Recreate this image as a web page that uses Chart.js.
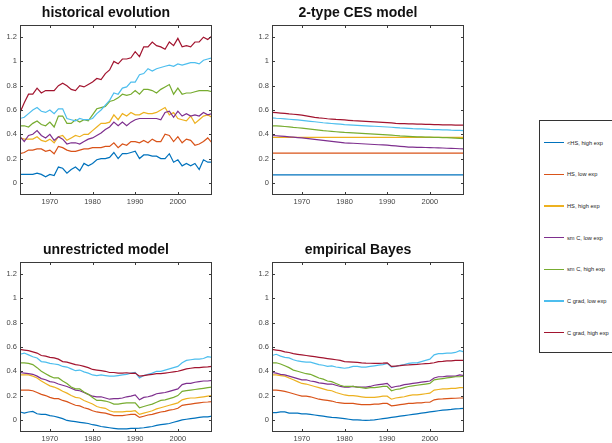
<!DOCTYPE html>
<html>
<head>
<meta charset="utf-8">
<script src="https://cdn.jsdelivr.net/npm/chart.js@4/dist/chart.umd.min.js"></script>
<style>
  html, body { margin: 0; padding: 0; background: #ffffff; }
  body { width: 612px; height: 443px; position: relative; overflow: hidden; font-family: "Liberation Sans", Arial, sans-serif; }
  canvas { position: absolute; }
  #legend { position: absolute; left: 539px; top: 120px; width: 90px; height: 233px; border: 1px solid #333; box-sizing: border-box; background: #fff; }
  .item { position: absolute; left: 0; height: 8px; width: 90px; }
  .item .ln { position: absolute; left: 4px; top: 3.5px; width: 20px; height: 1.2px; }
  .item .tx { position: absolute; left: 27px; top: 0; font-size: 5.7px; line-height: 8px; color: #222; white-space: nowrap; }
</style>
</head>
<body>
<canvas id="c1" width="220" height="206" style="left:0px;top:0px"></canvas>
<canvas id="c2" width="220" height="206" style="left:252px;top:0px"></canvas>
<canvas id="c3" width="220" height="206" style="left:0px;top:237px"></canvas>
<canvas id="c4" width="220" height="206" style="left:252px;top:237px"></canvas>
<div id="legend"></div>
<script>
// ---------------- DATA ----------------
const years = [1963,1964,1965,1966,1967,1968,1969,1970,1971,1972,1973,1974,1975,1976,1977,1978,1979,1980,1981,1982,1983,1984,1985,1986,1987,1988,1989,1990,1991,1992,1993,1994,1995,1996,1997,1998,1999,2000,2001,2002,2003,2004,2005,2006,2007,2008];
const seriesNames = ["<HS, high exp","HS, low exp","HS, high exp","sm C, low exp","sm C, high exp","C grad, low exp","C grad, high exp"];
const panelTitles = ["historical evolution","2-type CES model","unrestricted model","empirical Bayes"];
const yTicks = [0,0.2,0.4,0.6,0.8,1,1.2];
const xTicks = [1970,1980,1990,2000];

// historical evolution
const histLessHS = [0.07,0.07,0.07,0.07,0.08,0.07,0.05,0.07,0.06,0.13,0.12,0.08,0.11,0.13,0.10,0.16,0.14,0.16,0.19,0.20,0.20,0.21,0.25,0.20,0.24,0.24,0.25,0.26,0.20,0.23,0.23,0.22,0.22,0.20,0.20,0.24,0.17,0.19,0.14,0.16,0.14,0.16,0.11,0.19,0.17,0.17];
const histHSLow = [0.24,0.25,0.27,0.27,0.28,0.28,0.26,0.27,0.24,0.30,0.29,0.27,0.26,0.26,0.27,0.28,0.28,0.29,0.29,0.29,0.30,0.30,0.33,0.29,0.32,0.31,0.34,0.34,0.33,0.35,0.33,0.36,0.34,0.34,0.40,0.39,0.34,0.38,0.33,0.36,0.35,0.31,0.32,0.34,0.37,0.33];
const histHSHigh = [0.37,0.36,0.36,0.36,0.38,0.35,0.34,0.36,0.33,0.38,0.39,0.35,0.37,0.39,0.38,0.40,0.40,0.43,0.46,0.49,0.49,0.50,0.56,0.52,0.57,0.55,0.58,0.56,0.56,0.58,0.57,0.57,0.58,0.60,0.62,0.56,0.58,0.53,0.52,0.51,0.55,0.49,0.52,0.55,0.56,0.54];
const histSmCLow = [0.38,0.34,0.39,0.40,0.43,0.39,0.37,0.40,0.35,0.38,0.36,0.32,0.33,0.33,0.32,0.34,0.36,0.37,0.39,0.41,0.44,0.46,0.50,0.47,0.50,0.47,0.50,0.52,0.53,0.53,0.53,0.53,0.53,0.52,0.58,0.59,0.54,0.59,0.55,0.57,0.55,0.56,0.55,0.58,0.56,0.57];
const histSmCHigh = [0.47,0.47,0.46,0.49,0.51,0.48,0.47,0.50,0.46,0.55,0.55,0.49,0.49,0.52,0.50,0.52,0.51,0.56,0.61,0.62,0.63,0.67,0.68,0.70,0.73,0.72,0.73,0.76,0.73,0.77,0.77,0.76,0.74,0.77,0.79,0.81,0.73,0.78,0.73,0.74,0.74,0.75,0.76,0.76,0.76,0.75];
const histCGradLow = [0.53,0.54,0.57,0.60,0.62,0.59,0.58,0.60,0.57,0.61,0.61,0.53,0.52,0.51,0.53,0.52,0.52,0.53,0.57,0.60,0.64,0.68,0.74,0.73,0.78,0.79,0.83,0.83,0.89,0.90,0.94,0.92,0.94,0.95,0.96,0.97,0.96,0.98,0.97,0.98,0.99,0.99,0.98,1.01,1.02,1.03];
const histCGradHigh = [0.58,0.66,0.73,0.73,0.78,0.74,0.76,0.76,0.76,0.80,0.82,0.80,0.77,0.76,0.80,0.79,0.81,0.83,0.86,0.85,0.90,0.93,1.00,0.98,1.02,1.02,1.03,1.08,1.04,1.12,1.12,1.16,1.13,1.12,1.10,1.16,1.13,1.19,1.12,1.13,1.12,1.16,1.16,1.20,1.18,1.21];

// 2-type CES model
const cesLessHS = [0.065,0.065,0.065,0.065,0.065,0.065,0.065,0.065,0.065,0.065,0.065,0.065,0.065,0.065,0.065,0.065,0.065,0.065,0.065,0.065,0.065,0.065,0.065,0.065,0.065,0.065,0.065,0.065,0.065,0.065,0.065,0.065,0.065,0.065,0.065,0.065,0.065,0.065,0.065,0.065,0.065,0.065,0.065,0.065,0.065,0.065];
const cesHSLow = [0.245,0.245,0.245,0.245,0.245,0.245,0.245,0.245,0.245,0.245,0.245,0.245,0.245,0.245,0.245,0.245,0.245,0.245,0.245,0.245,0.245,0.245,0.245,0.245,0.245,0.245,0.245,0.245,0.245,0.245,0.245,0.245,0.245,0.245,0.245,0.245,0.245,0.245,0.245,0.245,0.245,0.245,0.245,0.245,0.245,0.245];
const cesHSHigh = [0.375,0.375,0.375,0.375,0.375,0.375,0.375,0.375,0.375,0.375,0.375,0.375,0.375,0.375,0.375,0.375,0.375,0.375,0.375,0.375,0.375,0.375,0.375,0.375,0.375,0.375,0.375,0.375,0.375,0.375,0.375,0.375,0.375,0.375,0.375,0.375,0.375,0.375,0.375,0.375,0.375,0.375,0.375,0.375,0.375,0.375];
const cesSmCLow = [0.39,0.388,0.385,0.382,0.379,0.376,0.373,0.37,0.366,0.362,0.358,0.354,0.35,0.346,0.342,0.338,0.334,0.33,0.328,0.326,0.324,0.322,0.32,0.318,0.316,0.314,0.312,0.31,0.307,0.304,0.301,0.298,0.295,0.294,0.293,0.292,0.291,0.29,0.289,0.288,0.287,0.285,0.284,0.283,0.281,0.28];
const cesSmCHigh = [0.47,0.469,0.467,0.464,0.461,0.457,0.454,0.45,0.446,0.442,0.438,0.434,0.43,0.427,0.424,0.421,0.418,0.415,0.413,0.411,0.409,0.407,0.405,0.403,0.401,0.399,0.397,0.395,0.393,0.39,0.387,0.385,0.383,0.381,0.379,0.378,0.377,0.376,0.375,0.374,0.373,0.372,0.37,0.368,0.366,0.365];
const cesCGradLow = [0.535,0.532,0.53,0.527,0.524,0.521,0.518,0.515,0.511,0.507,0.503,0.499,0.495,0.492,0.489,0.486,0.483,0.48,0.478,0.476,0.474,0.472,0.47,0.468,0.466,0.464,0.462,0.46,0.458,0.455,0.452,0.45,0.448,0.446,0.445,0.444,0.442,0.44,0.439,0.438,0.437,0.436,0.434,0.433,0.432,0.43];
const cesCGradHigh = [0.58,0.578,0.575,0.572,0.568,0.565,0.562,0.558,0.552,0.546,0.54,0.535,0.532,0.528,0.525,0.522,0.52,0.518,0.515,0.512,0.51,0.508,0.506,0.504,0.502,0.50,0.498,0.496,0.494,0.49,0.488,0.487,0.486,0.485,0.484,0.483,0.482,0.481,0.48,0.479,0.478,0.477,0.477,0.476,0.476,0.475];

// unrestricted model
const unrLessHS = [0.065,0.055,0.065,0.07,0.05,0.045,0.045,0.035,0.03,0.02,0.01,-0.005,-0.01,-0.015,-0.02,-0.025,-0.03,-0.04,-0.045,-0.055,-0.06,-0.065,-0.07,-0.075,-0.075,-0.075,-0.07,-0.07,-0.068,-0.065,-0.06,-0.055,-0.045,-0.04,-0.035,-0.03,-0.02,-0.01,0.0,0.005,0.01,0.015,0.02,0.025,0.025,0.03];
const unrHSLow = [0.245,0.245,0.245,0.24,0.225,0.21,0.20,0.185,0.175,0.175,0.16,0.15,0.135,0.12,0.115,0.10,0.09,0.075,0.065,0.06,0.055,0.045,0.035,0.035,0.035,0.04,0.045,0.045,0.02,0.03,0.04,0.045,0.055,0.065,0.07,0.08,0.085,0.095,0.12,0.125,0.13,0.135,0.14,0.145,0.147,0.15];
const unrHSHigh = [0.37,0.37,0.37,0.36,0.345,0.32,0.30,0.28,0.27,0.255,0.235,0.22,0.20,0.185,0.18,0.16,0.145,0.13,0.11,0.10,0.095,0.075,0.065,0.065,0.065,0.07,0.07,0.075,0.045,0.055,0.065,0.075,0.09,0.10,0.11,0.12,0.13,0.14,0.165,0.175,0.18,0.18,0.185,0.19,0.195,0.20];
const unrSmCLow = [0.39,0.385,0.38,0.375,0.36,0.34,0.33,0.315,0.31,0.295,0.285,0.275,0.26,0.245,0.24,0.225,0.21,0.195,0.19,0.19,0.18,0.17,0.175,0.175,0.18,0.19,0.195,0.205,0.165,0.185,0.19,0.20,0.215,0.22,0.225,0.235,0.245,0.255,0.29,0.30,0.30,0.31,0.315,0.32,0.32,0.325];
const unrSmCHigh = [0.47,0.47,0.465,0.455,0.43,0.40,0.38,0.36,0.345,0.345,0.32,0.30,0.27,0.255,0.255,0.23,0.21,0.185,0.16,0.16,0.155,0.145,0.13,0.13,0.135,0.14,0.14,0.14,0.10,0.11,0.12,0.13,0.145,0.16,0.165,0.175,0.185,0.20,0.235,0.24,0.245,0.25,0.255,0.26,0.265,0.27];
const unrCGradLow = [0.54,0.55,0.535,0.52,0.51,0.48,0.475,0.465,0.46,0.455,0.44,0.435,0.42,0.405,0.41,0.395,0.385,0.37,0.365,0.37,0.365,0.36,0.36,0.365,0.37,0.375,0.385,0.39,0.345,0.365,0.375,0.385,0.40,0.40,0.41,0.42,0.43,0.44,0.47,0.49,0.495,0.50,0.50,0.505,0.52,0.515];
const unrCGradHigh = [0.58,0.575,0.57,0.56,0.55,0.53,0.525,0.515,0.51,0.50,0.48,0.475,0.465,0.455,0.45,0.44,0.43,0.415,0.41,0.405,0.40,0.39,0.39,0.385,0.385,0.388,0.383,0.385,0.36,0.365,0.37,0.375,0.38,0.38,0.385,0.39,0.395,0.40,0.41,0.42,0.425,0.43,0.43,0.435,0.437,0.44];

// empirical Bayes
const ebLessHS = [0.06,0.06,0.065,0.065,0.055,0.055,0.055,0.05,0.05,0.045,0.04,0.035,0.03,0.025,0.02,0.018,0.015,0.01,0.005,0.0,0.0,-0.003,-0.005,-0.003,0.0,0.005,0.01,0.015,0.02,0.025,0.03,0.035,0.04,0.045,0.05,0.055,0.06,0.065,0.07,0.075,0.08,0.083,0.086,0.09,0.092,0.095];
const ebHSLow = [0.245,0.245,0.24,0.235,0.225,0.215,0.205,0.195,0.195,0.19,0.18,0.17,0.165,0.16,0.155,0.145,0.14,0.135,0.135,0.135,0.13,0.125,0.125,0.125,0.13,0.13,0.135,0.135,0.115,0.12,0.125,0.13,0.135,0.135,0.14,0.14,0.145,0.145,0.165,0.17,0.172,0.175,0.177,0.178,0.18,0.18];
const ebHSHigh = [0.37,0.37,0.365,0.36,0.345,0.33,0.315,0.30,0.295,0.285,0.275,0.265,0.255,0.245,0.24,0.225,0.215,0.205,0.20,0.20,0.195,0.19,0.185,0.185,0.185,0.19,0.195,0.195,0.17,0.18,0.185,0.19,0.20,0.205,0.205,0.21,0.215,0.22,0.245,0.25,0.255,0.255,0.26,0.26,0.265,0.265];
const ebSmCLow = [0.39,0.385,0.375,0.37,0.36,0.35,0.34,0.33,0.33,0.32,0.315,0.305,0.30,0.295,0.295,0.285,0.275,0.27,0.27,0.275,0.27,0.27,0.27,0.275,0.285,0.29,0.295,0.30,0.265,0.275,0.28,0.29,0.295,0.30,0.305,0.31,0.315,0.32,0.345,0.355,0.355,0.36,0.36,0.36,0.37,0.365];
const ebSmCHigh = [0.47,0.47,0.46,0.445,0.43,0.41,0.40,0.39,0.38,0.375,0.36,0.345,0.335,0.32,0.315,0.30,0.285,0.275,0.275,0.275,0.27,0.265,0.26,0.265,0.265,0.27,0.275,0.275,0.24,0.25,0.255,0.265,0.275,0.28,0.285,0.29,0.295,0.30,0.33,0.335,0.34,0.345,0.35,0.355,0.355,0.36];
const ebCGradLow = [0.53,0.54,0.525,0.515,0.51,0.495,0.485,0.48,0.475,0.475,0.465,0.455,0.45,0.44,0.445,0.435,0.43,0.425,0.43,0.44,0.44,0.435,0.435,0.44,0.445,0.45,0.455,0.465,0.435,0.44,0.45,0.455,0.465,0.47,0.47,0.48,0.49,0.50,0.535,0.545,0.545,0.55,0.55,0.555,0.57,0.56];
const ebCGradHigh = [0.58,0.575,0.57,0.56,0.555,0.545,0.54,0.535,0.53,0.525,0.52,0.515,0.51,0.505,0.50,0.495,0.49,0.48,0.478,0.476,0.474,0.47,0.467,0.466,0.465,0.465,0.467,0.47,0.44,0.443,0.446,0.45,0.452,0.455,0.457,0.46,0.463,0.465,0.47,0.48,0.482,0.485,0.486,0.49,0.49,0.49];

const panels = [
  [histLessHS, histHSLow, histHSHigh, histSmCLow, histSmCHigh, histCGradLow, histCGradHigh],
  [cesLessHS, cesHSLow, cesHSHigh, cesSmCLow, cesSmCHigh, cesCGradLow, cesCGradHigh],
  [unrLessHS, unrHSLow, unrHSHigh, unrSmCLow, unrSmCHigh, unrCGradLow, unrCGradHigh],
  [ebLessHS, ebHSLow, ebHSHigh, ebSmCLow, ebSmCHigh, ebCGradLow, ebCGradHigh]
];

// ---------------- STYLE ----------------
const colors = ["#0072BD","#D95319","#EDB120","#7E2F8E","#77AC30","#4DBEEE","#A2142F"];
const tickFont = { family: "'Liberation Sans', Arial, sans-serif", size: 7.5 };

const boxPlugin = {
  id: 'matlabBox',
  afterDraw(chart) {
    const { ctx, chartArea, scales } = chart;
    const l = Math.round(chartArea.left) + 0.5, r = Math.round(chartArea.right) - 0.5;
    const t = Math.round(chartArea.top) + 0.5, b = Math.round(chartArea.bottom) - 0.5;
    ctx.save();
    ctx.strokeStyle = '#3a3a3a';
    ctx.lineWidth = 1;
    ctx.strokeRect(l, t, r - l, b - t);
    ctx.beginPath();
    const tl = 2.5;
    scales.x.ticks.forEach(tk => {
      const px = Math.round(scales.x.getPixelForValue(tk.value)) + 0.5;
      ctx.moveTo(px, b); ctx.lineTo(px, b - tl);
      ctx.moveTo(px, t); ctx.lineTo(px, t + tl);
    });
    scales.y.ticks.forEach(tk => {
      const py = Math.round(scales.y.getPixelForValue(tk.value)) + 0.5;
      ctx.moveTo(l, py); ctx.lineTo(l + tl, py);
      ctx.moveTo(r, py); ctx.lineTo(r - tl, py);
    });
    ctx.stroke();
    ctx.restore();
  }
};

function makeChart(id, title, series) {
  const ctx = document.getElementById(id);
  return new Chart(ctx, {
    type: 'line',
    data: {
      datasets: series.map((vals, i) => ({
        label: seriesNames[i],
        data: vals.map((v, j) => ({ x: years[j], y: v })),
        borderColor: colors[i],
        backgroundColor: colors[i],
        borderWidth: 1.2,
        pointRadius: 0,
        tension: 0,
        fill: false,
        order: series.length - i
      }))
    },
    options: {
      responsive: false,
      animation: false,
      events: [],
      layout: { padding: { left: 0, right: 8, top: 0, bottom: 0 } },
      plugins: {
        legend: { display: false },
        tooltip: { enabled: false },
        title: {
          display: true,
          text: title,
          color: '#111',
          font: { family: "'Liberation Sans', Arial, sans-serif", size: 14, weight: 'bold', lineHeight: 1.2 },
          padding: { top: 5, bottom: 3.2 }
        }
      },
      scales: {
        x: {
          type: 'linear',
          min: 1963, max: 2008,
          grid: { display: false, drawTicks: false },
          border: { display: false },
          afterBuildTicks: s => { s.ticks = xTicks.map(v => ({ value: v })); },
          afterFit: s => { s.height = 11; },
          ticks: { color: '#444', font: tickFont, padding: 2, maxRotation: 0, autoSkip: false, callback: v => String(v) }
        },
        y: {
          type: 'linear',
          min: -0.1, max: 1.3,
          grid: { display: false, drawTicks: false },
          border: { display: false },
          afterBuildTicks: s => { s.ticks = yTicks.map(v => ({ value: v })); },
          afterFit: s => { s.width = 20; },
          ticks: { color: '#444', font: tickFont, padding: 3, autoSkip: false, callback: v => String(Math.round(v * 10) / 10) }
        }
      }
    },
    plugins: [boxPlugin]
  });
}

['c1','c2','c3','c4'].forEach((id, k) => makeChart(id, panelTitles[k], panels[k]));

// legend
const legend = document.getElementById('legend');
seriesNames.forEach((name, i) => {
  const it = document.createElement('div');
  it.className = 'item';
  it.style.top = (17.6 + i * 31.67) + 'px';
  it.innerHTML = '<div class="ln" style="background:' + colors[i] + '"></div><div class="tx"></div>';
  it.querySelector('.tx').textContent = name;
  legend.appendChild(it);
});
</script>
</body>
</html>
